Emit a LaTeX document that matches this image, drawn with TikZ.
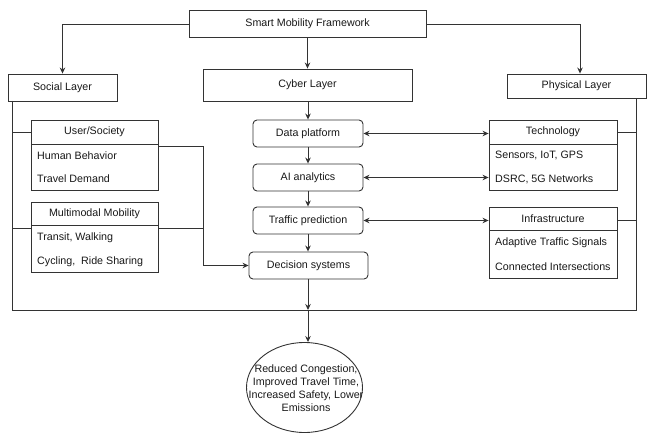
\documentclass[tikz,border=0pt]{standalone}
\usepackage{fontspec}
\setmainfont{Liberation Sans}
\usetikzlibrary{arrows.meta,shapes.geometric}
\definecolor{ink}{HTML}{333333}
\tikzset{
  every node/.style={font=\fontsize{10.7}{13}\selectfont, text=black!90, inner sep=0pt},
  conn/.style={draw=ink, line width=0.9pt},
  arr/.style={conn, -{Stealth[length=6pt,width=5.5pt]}},
  darr/.style={conn, {Stealth[length=6pt,width=5.5pt]}-{Stealth[length=6pt,width=5.5pt]}},
  plainbox/.style={draw=ink, line width=0.9pt, fill=white, minimum height=#1},
  plainbox/.default=27pt,
  roundbox/.style={draw=ink, line width=0.9pt, fill=white, rounded corners=4pt, minimum height=27pt},
  item/.style={anchor=west},
}
\begin{document}
\begin{tikzpicture}[x=1pt,y=-1pt]
\useasboundingbox (0,0) rectangle (647,433);

% top level and the three layers
\node[plainbox, minimum width=237pt] (smf) at (307.5,23.5) {Smart Mobility Framework};
\node[plainbox, minimum width=109pt] (social) at (62.5,87.5) {Social Layer};
\node[plainbox=32pt, minimum width=209pt] (cyber) at (307.5,85) {Cyber Layer};
\node[plainbox=24pt, minimum width=139pt] (phys) at (576.5,86) {Physical Layer};

% social side
\node[plainbox=24pt, minimum width=127pt] (userh) at (94.5,132) {User/Society};
\node[plainbox=46pt, minimum width=127pt] (userb) at (94.5,167) {};
\node[item] (hb) at (37,155.5) {Human Behavior};
\node[item] (td) at (37,178.5) {Travel Demand};

\node[plainbox=23pt, minimum width=127pt] (multh) at (94.5,213.5) {Multimodal Mobility};
\node[plainbox=47pt, minimum width=127pt] (multb) at (94.5,248.5) {};
\node[item] (tw) at (37,237.5) {Transit, Walking};
\node[item] (cr) at (37,261.5) {Cycling,\ \ Ride Sharing};

% cyber column
\node[roundbox, minimum width=110pt] (data) at (308,133.5) {Data platform};
\node[roundbox, minimum width=110pt] (ai) at (308,177.5) {AI analytics};
\node[roundbox, minimum width=110pt] (traffic) at (308,220.5) {Traffic prediction};
\node[roundbox, minimum width=119pt] (decision) at (308.5,265.5) {Decision systems};

% physical side
\node[plainbox=24pt, minimum width=128pt] (techh) at (553,132) {Technology};
\node[plainbox=46pt, minimum width=128pt] (techb) at (553,167) {};
\node[item] (sig) at (495,155.5) {Sensors, IoT, GPS};
\node[item] (dsrc) at (495,179) {DSRC, 5G Networks};

\node[plainbox=23pt, minimum width=128pt] (infh) at (553,218.5) {Infrastructure};
\node[plainbox=48pt, minimum width=128pt] (infb) at (553,254) {};
\node[item] (ats) at (495,242.5) {Adaptive Traffic Signals};
\node[item] (ci) at (495,266.5) {Connected Intersections};

% outcome: the text is allowed to run past the ellipse outline
\node[draw=ink, line width=0.9pt, ellipse, minimum width=116pt, minimum height=90pt] (out) at (304.5,387.5) {};
\node[align=center] (outtext) at (306,388.5)
  {Reduced Congestion,\\Improved Travel Time,\\Increased Safety, Lower\\Emissions};

% bus lines
\coordinate (busL) at (12,310);
\coordinate (busR) at (636,310);
\coordinate (busM) at (308,310);
\draw[conn] (12,101) -- (busL) -- (busR) -- (636,98);
\draw[conn] (12,132) -- (userh.west);
\draw[conn] (12,228) -- (multh.west |- 0,228);
\draw[conn] (techh.east) -- (636,132);
\draw[conn] (infh.east |- 0,220) -- (636,220);

% top arrows
\draw[arr] (smf.west |- 0,24) -| (social.north);
\draw[arr] (smf.south) -- (cyber.north);
\draw[arr] (smf.east |- 0,24) -| ([xshift=3.5pt]phys.north);

% cyber chain
\draw[arr] (cyber.south -| data.north) -- (data.north);
\draw[arr] (data) -- (ai);
\draw[arr] (ai) -- (traffic);
\draw[arr] (traffic) -- (decision.north -| traffic.south);
\draw[arr] (decision.south -| busM) -- (busM);
\draw[arr] (busM) -- (out.north -| busM);

% social feed into decisions
\coordinate (feed) at (203,265.5);
\draw[conn] (userb.east |- 0,146) -| (feed);
\draw[conn] (multb.east |- 0,228) -- (203,228);
\draw[arr] (feed) -- (decision.west);

% cyber-physical links
\draw[darr] (data.east) -- (techh.west |- data.east);
\draw[darr] (ai.east) -- (techb.west |- ai.east);
\draw[darr] (traffic.east) -- (infh.west |- traffic.east);
\end{tikzpicture}
\end{document}
